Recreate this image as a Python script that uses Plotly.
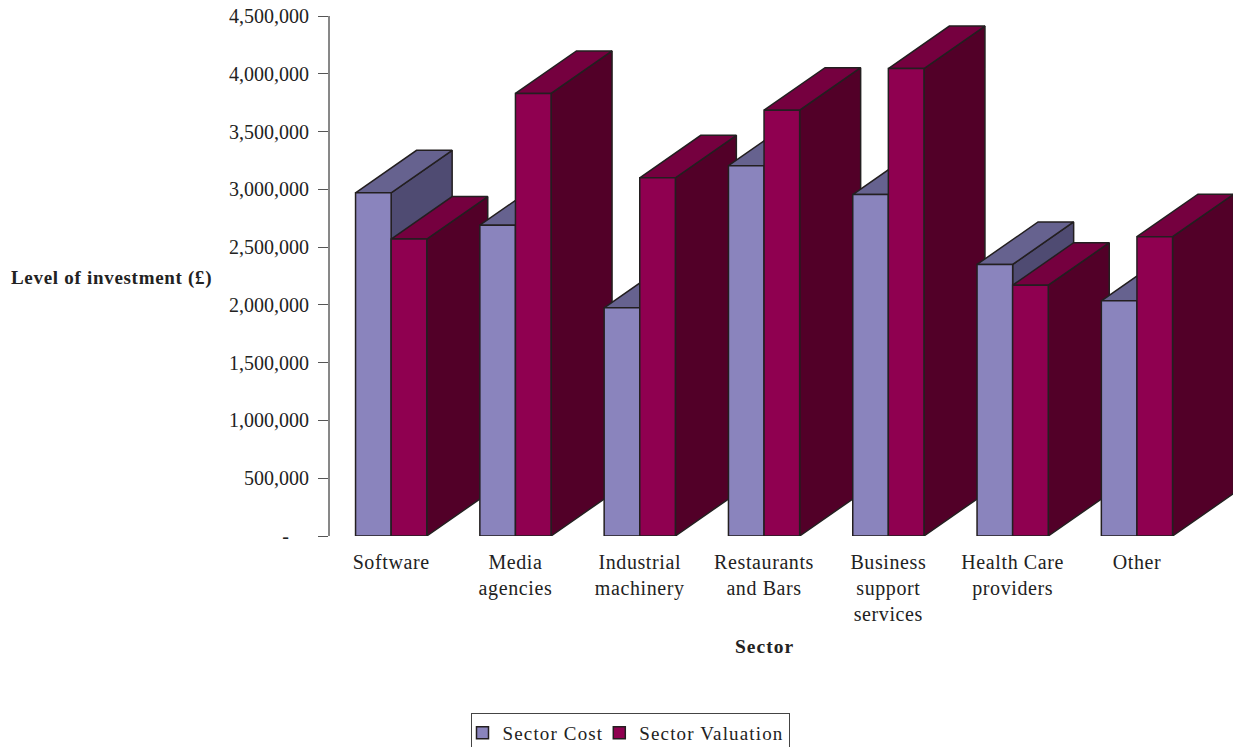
import plotly.graph_objects as go

# Sector data
SECTORS = ["Software", "Media<br>agencies", "Industrial<br>machinery", "Restaurants<br>and Bars",
           "Business<br>support<br>services", "Health Care<br>providers", "Other"]
SECTOR_COST = [2970000, 2690000, 1975000, 3205000, 2955000, 2350000, 2035000]
SECTOR_VALUATION = [2570000, 3830000, 3100000, 3685000, 4045000, 2170000, 2590000]
Y_TICKS = [0, 500000, 1000000, 1500000, 2000000, 2500000, 3000000, 3500000, 4000000, 4500000]
Y_LABELS = ["-\u00a0\u00a0\u00a0\u00a0", "500,000", "1,000,000", "1,500,000", "2,000,000",
            "2,500,000", "3,000,000", "3,500,000", "4,000,000", "4,500,000"]

# Page and plot frame, in pixels
WIDTH, HEIGHT = 1233, 747
LEFT, TOP, BOTTOM = 329, 16, 211
CATEGORY_PX = 124.3

# Extruded depth of each bar, in axis units
DEPTH_X = 61 / CATEGORY_PX
DEPTH_Y = 42.5 / ((HEIGHT - TOP - BOTTOM) / 4500000)
BAR_W = 35.6 / CATEGORY_PX

FONT = "Liberation Serif"
INK = "#231F20"
STYLE = {
    "cost": {"front": "#8A84BD", "top": "#66628F", "side": "#4F4B72"},
    "valuation": {"front": "#8F0050", "top": "#75003F", "side": "#520028"},
}


def spaced(text, px):
    """Wrap each line of a label in a span with the given letter spacing."""
    return "<br>".join(f'<span style="letter-spacing:{px}px">{line}</span>' for line in text.split("<br>"))


def extrusion(left, right, value, colors):
    """Side and top faces of one bar, receding up and to the right."""
    side = go.Scatter(
        x=[right, right + DEPTH_X, right + DEPTH_X, right, right],
        y=[0, DEPTH_Y, value + DEPTH_Y, value, 0],
        mode="lines", fill="toself", fillcolor=colors["side"],
        line=dict(color=INK, width=1.5), showlegend=False, hoverinfo="skip", zorder=1,
    )
    top = go.Scatter(
        x=[left, right, right + DEPTH_X, left + DEPTH_X, left],
        y=[value, value, value + DEPTH_Y, value + DEPTH_Y, value],
        mode="lines", fill="toself", fillcolor=colors["top"],
        line=dict(color=INK, width=1.5), showlegend=False, hoverinfo="skip", zorder=1,
    )
    return [side, top]


fig = go.Figure()

# Faces are added left to right so nearer bars paint over farther ones
for i in range(len(SECTORS)):
    fig.add_traces(extrusion(i - BAR_W, i, SECTOR_COST[i], STYLE["cost"]))
    fig.add_traces(extrusion(i, i + BAR_W, SECTOR_VALUATION[i], STYLE["valuation"]))

positions = list(range(len(SECTORS)))
fig.add_trace(go.Bar(x=positions, y=SECTOR_COST, name=spaced("Sector Cost", 1.15), zorder=2,
                     marker=dict(color=STYLE["cost"]["front"], line=dict(color=INK, width=1.5))))
fig.add_trace(go.Bar(x=positions, y=SECTOR_VALUATION, name=spaced("Sector Valuation", 1.15), zorder=2,
                     marker=dict(color=STYLE["valuation"]["front"], line=dict(color=INK, width=1.5))))

plot_w = WIDTH - LEFT
plot_h = HEIGHT - TOP - BOTTOM
fig.update_layout(
    width=WIDTH, height=HEIGHT, autosize=False,
    margin=dict(l=LEFT, r=0, t=TOP, b=BOTTOM, pad=0),
    paper_bgcolor="white", plot_bgcolor="white",
    barmode="group", bargap=1 - 2 * BAR_W, bargroupgap=0,
    font=dict(family=FONT, color="#222222", size=19),
    showlegend=True,
    legend=dict(orientation="h", xref="paper", yref="container", x=(630 - LEFT) / plot_w, xanchor="center",
                y=(HEIGHT - 713) / HEIGHT, yanchor="top", bgcolor="white", bordercolor="#444444", borderwidth=1,
                font=dict(family=FONT, size=19, color="#222222"), traceorder="normal", indentation=-9),
    shapes=[dict(type="line", xref="x domain", yref="y domain", x0=0, x1=0, y0=0, y1=1,
                 line=dict(color="#111111", width=1), layer="above")],
)
fig.update_xaxes(
    range=[-0.5, -0.5 + plot_w / CATEGORY_PX], tickmode="array", tickvals=positions,
    ticktext=[spaced(s, 0.6) for s in SECTORS],
    ticks="", showgrid=False, zeroline=False, showline=False, tickangle=0,
    tickfont=dict(family=FONT, size=20, color="#222222"), ticklabelstandoff=12,
)
fig.update_yaxes(
    range=[0, 4500000], tickmode="array", tickvals=Y_TICKS, ticktext=Y_LABELS,
    ticks="outside", ticklen=10, tickwidth=1, tickcolor="#555555",
    showline=False, showgrid=False, zeroline=False,
    tickfont=dict(family=FONT, size=20, color="#222222"), ticklabelstandoff=5,
)
fig.add_annotation(text="<b>" + spaced("Level of investment (£)", 0.7) + "</b>", xref="paper", yref="paper",
                   x=(111.5 - LEFT) / plot_w, y=(HEIGHT - BOTTOM - 278) / plot_h,
                   xanchor="center", yanchor="middle",
                   showarrow=False, font=dict(family=FONT, size=19, color="#222222"))
fig.add_annotation(text="<b>" + spaced("Sector", 1) + "</b>", xref="paper", yref="paper",
                   x=(764.5 - LEFT) / plot_w, y=(HEIGHT - BOTTOM - 646) / plot_h,
                   xanchor="center", yanchor="middle",
                   showarrow=False, font=dict(family=FONT, size=19.5, color="#222222"))

fig.write_html("out.html")
